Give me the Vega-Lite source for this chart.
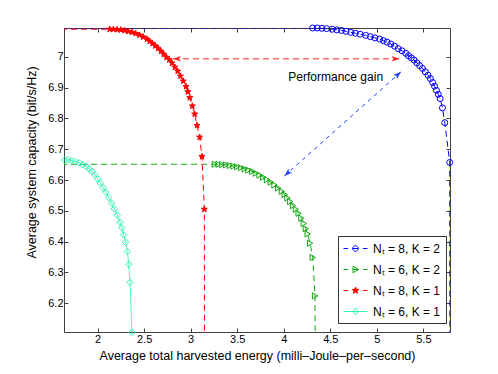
{
  "$schema": "https://vega.github.io/schema/vega-lite/v6.json",
  "width": 386,
  "height": 304,
  "autosize": {"type": "none"},
  "padding": {"left": 64, "top": 28, "right": 48, "bottom": 42},
  "background": "white",
  "config": {
    "view": {"stroke": null},
    "font": "Liberation Sans",
    "axis": {
      "domainColor": "#404040", "domainWidth": 1, "tickColor": "#404040", "tickSize": -4, "tickWidth": 1,
      "labelFont": "Liberation Sans", "labelFontSize": 11, "labelColor": "#000000", "labelPadding": 5,
      "titleFont": "Liberation Sans", "titleFontSize": 12.5, "titleFontWeight": "normal", "titleColor": "#000000",
      "grid": false
    }
  },
  "datasets": {
    "curves": [
      {"s": "N\u209c = 8, K = 2", "kind": "e", "x": 1.5, "y": 7.093},
      {"s": "N\u209c = 8, K = 2", "kind": "m", "x": 4.31, "y": 7.093},
      {"s": "N\u209c = 8, K = 2", "kind": "m", "x": 4.36, "y": 7.093},
      {"s": "N\u209c = 8, K = 2", "kind": "m", "x": 4.41, "y": 7.092},
      {"s": "N\u209c = 8, K = 2", "kind": "m", "x": 4.46, "y": 7.091},
      {"s": "N\u209c = 8, K = 2", "kind": "m", "x": 4.52, "y": 7.089},
      {"s": "N\u209c = 8, K = 2", "kind": "m", "x": 4.57, "y": 7.087},
      {"s": "N\u209c = 8, K = 2", "kind": "m", "x": 4.62, "y": 7.085},
      {"s": "N\u209c = 8, K = 2", "kind": "m", "x": 4.67, "y": 7.082},
      {"s": "N\u209c = 8, K = 2", "kind": "m", "x": 4.72, "y": 7.079},
      {"s": "N\u209c = 8, K = 2", "kind": "m", "x": 4.77, "y": 7.076},
      {"s": "N\u209c = 8, K = 2", "kind": "m", "x": 4.82, "y": 7.073},
      {"s": "N\u209c = 8, K = 2", "kind": "m", "x": 4.88, "y": 7.069},
      {"s": "N\u209c = 8, K = 2", "kind": "m", "x": 4.93, "y": 7.065},
      {"s": "N\u209c = 8, K = 2", "kind": "m", "x": 4.98, "y": 7.061},
      {"s": "N\u209c = 8, K = 2", "kind": "m", "x": 5.03, "y": 7.057},
      {"s": "N\u209c = 8, K = 2", "kind": "m", "x": 5.07, "y": 7.052},
      {"s": "N\u209c = 8, K = 2", "kind": "m", "x": 5.11, "y": 7.047},
      {"s": "N\u209c = 8, K = 2", "kind": "m", "x": 5.15, "y": 7.041},
      {"s": "N\u209c = 8, K = 2", "kind": "m", "x": 5.19, "y": 7.034},
      {"s": "N\u209c = 8, K = 2", "kind": "m", "x": 5.23, "y": 7.026},
      {"s": "N\u209c = 8, K = 2", "kind": "m", "x": 5.27, "y": 7.019},
      {"s": "N\u209c = 8, K = 2", "kind": "m", "x": 5.31, "y": 7.011},
      {"s": "N\u209c = 8, K = 2", "kind": "m", "x": 5.34, "y": 7.003},
      {"s": "N\u209c = 8, K = 2", "kind": "m", "x": 5.37, "y": 6.996},
      {"s": "N\u209c = 8, K = 2", "kind": "m", "x": 5.40, "y": 6.989},
      {"s": "N\u209c = 8, K = 2", "kind": "m", "x": 5.43, "y": 6.980},
      {"s": "N\u209c = 8, K = 2", "kind": "m", "x": 5.46, "y": 6.971},
      {"s": "N\u209c = 8, K = 2", "kind": "m", "x": 5.49, "y": 6.962},
      {"s": "N\u209c = 8, K = 2", "kind": "m", "x": 5.52, "y": 6.951},
      {"s": "N\u209c = 8, K = 2", "kind": "m", "x": 5.55, "y": 6.940},
      {"s": "N\u209c = 8, K = 2", "kind": "m", "x": 5.575, "y": 6.929},
      {"s": "N\u209c = 8, K = 2", "kind": "m", "x": 5.60, "y": 6.916},
      {"s": "N\u209c = 8, K = 2", "kind": "m", "x": 5.62, "y": 6.904},
      {"s": "N\u209c = 8, K = 2", "kind": "m", "x": 5.64, "y": 6.891},
      {"s": "N\u209c = 8, K = 2", "kind": "m", "x": 5.66, "y": 6.878},
      {"s": "N\u209c = 8, K = 2", "kind": "m", "x": 5.68, "y": 6.864},
      {"s": "N\u209c = 8, K = 2", "kind": "m", "x": 5.705, "y": 6.834},
      {"s": "N\u209c = 8, K = 2", "kind": "m", "x": 5.73, "y": 6.786},
      {"s": "N\u209c = 8, K = 2", "kind": "m", "x": 5.783, "y": 6.657},
      {"s": "N\u209c = 8, K = 2", "kind": "e", "x": 5.785, "y": 6.0},

      {"s": "N\u209c = 6, K = 2", "kind": "e", "x": 1.5, "y": 6.651},
      {"s": "N\u209c = 6, K = 2", "kind": "m", "x": 3.26, "y": 6.651},
      {"s": "N\u209c = 6, K = 2", "kind": "m", "x": 3.30, "y": 6.651},
      {"s": "N\u209c = 6, K = 2", "kind": "m", "x": 3.34, "y": 6.650},
      {"s": "N\u209c = 6, K = 2", "kind": "m", "x": 3.38, "y": 6.649},
      {"s": "N\u209c = 6, K = 2", "kind": "m", "x": 3.42, "y": 6.647},
      {"s": "N\u209c = 6, K = 2", "kind": "m", "x": 3.46, "y": 6.645},
      {"s": "N\u209c = 6, K = 2", "kind": "m", "x": 3.50, "y": 6.643},
      {"s": "N\u209c = 6, K = 2", "kind": "m", "x": 3.54, "y": 6.640},
      {"s": "N\u209c = 6, K = 2", "kind": "m", "x": 3.58, "y": 6.636},
      {"s": "N\u209c = 6, K = 2", "kind": "m", "x": 3.62, "y": 6.632},
      {"s": "N\u209c = 6, K = 2", "kind": "m", "x": 3.66, "y": 6.628},
      {"s": "N\u209c = 6, K = 2", "kind": "m", "x": 3.70, "y": 6.622},
      {"s": "N\u209c = 6, K = 2", "kind": "m", "x": 3.74, "y": 6.616},
      {"s": "N\u209c = 6, K = 2", "kind": "m", "x": 3.78, "y": 6.609},
      {"s": "N\u209c = 6, K = 2", "kind": "m", "x": 3.82, "y": 6.601},
      {"s": "N\u209c = 6, K = 2", "kind": "m", "x": 3.86, "y": 6.593},
      {"s": "N\u209c = 6, K = 2", "kind": "m", "x": 3.90, "y": 6.584},
      {"s": "N\u209c = 6, K = 2", "kind": "m", "x": 3.94, "y": 6.574},
      {"s": "N\u209c = 6, K = 2", "kind": "m", "x": 3.98, "y": 6.563},
      {"s": "N\u209c = 6, K = 2", "kind": "m", "x": 4.01, "y": 6.553},
      {"s": "N\u209c = 6, K = 2", "kind": "m", "x": 4.04, "y": 6.542},
      {"s": "N\u209c = 6, K = 2", "kind": "m", "x": 4.07, "y": 6.530},
      {"s": "N\u209c = 6, K = 2", "kind": "m", "x": 4.10, "y": 6.517},
      {"s": "N\u209c = 6, K = 2", "kind": "m", "x": 4.13, "y": 6.505},
      {"s": "N\u209c = 6, K = 2", "kind": "m", "x": 4.16, "y": 6.492},
      {"s": "N\u209c = 6, K = 2", "kind": "m", "x": 4.19, "y": 6.476},
      {"s": "N\u209c = 6, K = 2", "kind": "m", "x": 4.215, "y": 6.459},
      {"s": "N\u209c = 6, K = 2", "kind": "m", "x": 4.237, "y": 6.442},
      {"s": "N\u209c = 6, K = 2", "kind": "m", "x": 4.257, "y": 6.425},
      {"s": "N\u209c = 6, K = 2", "kind": "m", "x": 4.283, "y": 6.395},
      {"s": "N\u209c = 6, K = 2", "kind": "m", "x": 4.311, "y": 6.349},
      {"s": "N\u209c = 6, K = 2", "kind": "m", "x": 4.336, "y": 6.224},
      {"s": "N\u209c = 6, K = 2", "kind": "e", "x": 4.338, "y": 6.0},

      {"s": "N\u209c = 8, K = 1", "kind": "e", "x": 1.5, "y": 7.089},
      {"s": "N\u209c = 8, K = 1", "kind": "m", "x": 2.13, "y": 7.089},
      {"s": "N\u209c = 8, K = 1", "kind": "m", "x": 2.17, "y": 7.089},
      {"s": "N\u209c = 8, K = 1", "kind": "m", "x": 2.21, "y": 7.088},
      {"s": "N\u209c = 8, K = 1", "kind": "m", "x": 2.25, "y": 7.087},
      {"s": "N\u209c = 8, K = 1", "kind": "m", "x": 2.29, "y": 7.085},
      {"s": "N\u209c = 8, K = 1", "kind": "m", "x": 2.33, "y": 7.082},
      {"s": "N\u209c = 8, K = 1", "kind": "m", "x": 2.37, "y": 7.079},
      {"s": "N\u209c = 8, K = 1", "kind": "m", "x": 2.41, "y": 7.075},
      {"s": "N\u209c = 8, K = 1", "kind": "m", "x": 2.45, "y": 7.070},
      {"s": "N\u209c = 8, K = 1", "kind": "m", "x": 2.49, "y": 7.064},
      {"s": "N\u209c = 8, K = 1", "kind": "m", "x": 2.53, "y": 7.057},
      {"s": "N\u209c = 8, K = 1", "kind": "m", "x": 2.56, "y": 7.050},
      {"s": "N\u209c = 8, K = 1", "kind": "m", "x": 2.59, "y": 7.043},
      {"s": "N\u209c = 8, K = 1", "kind": "m", "x": 2.62, "y": 7.035},
      {"s": "N\u209c = 8, K = 1", "kind": "m", "x": 2.65, "y": 7.027},
      {"s": "N\u209c = 8, K = 1", "kind": "m", "x": 2.68, "y": 7.018},
      {"s": "N\u209c = 8, K = 1", "kind": "m", "x": 2.71, "y": 7.008},
      {"s": "N\u209c = 8, K = 1", "kind": "m", "x": 2.74, "y": 6.998},
      {"s": "N\u209c = 8, K = 1", "kind": "m", "x": 2.77, "y": 6.990},
      {"s": "N\u209c = 8, K = 1", "kind": "m", "x": 2.80, "y": 6.979},
      {"s": "N\u209c = 8, K = 1", "kind": "m", "x": 2.83, "y": 6.966},
      {"s": "N\u209c = 8, K = 1", "kind": "m", "x": 2.86, "y": 6.953},
      {"s": "N\u209c = 8, K = 1", "kind": "m", "x": 2.89, "y": 6.937},
      {"s": "N\u209c = 8, K = 1", "kind": "m", "x": 2.92, "y": 6.921},
      {"s": "N\u209c = 8, K = 1", "kind": "m", "x": 2.95, "y": 6.903},
      {"s": "N\u209c = 8, K = 1", "kind": "m", "x": 2.97, "y": 6.886},
      {"s": "N\u209c = 8, K = 1", "kind": "m", "x": 2.99, "y": 6.867},
      {"s": "N\u209c = 8, K = 1", "kind": "m", "x": 3.018, "y": 6.840},
      {"s": "N\u209c = 8, K = 1", "kind": "m", "x": 3.043, "y": 6.814},
      {"s": "N\u209c = 8, K = 1", "kind": "m", "x": 3.068, "y": 6.777},
      {"s": "N\u209c = 8, K = 1", "kind": "m", "x": 3.096, "y": 6.739},
      {"s": "N\u209c = 8, K = 1", "kind": "m", "x": 3.121, "y": 6.676},
      {"s": "N\u209c = 8, K = 1", "kind": "m", "x": 3.147, "y": 6.505},
      {"s": "N\u209c = 8, K = 1", "kind": "e", "x": 3.149, "y": 6.0},

      {"s": "N\u209c = 6, K = 1", "kind": "m", "x": 1.645, "y": 6.665},
      {"s": "N\u209c = 6, K = 1", "kind": "m", "x": 1.68, "y": 6.665},
      {"s": "N\u209c = 6, K = 1", "kind": "m", "x": 1.72, "y": 6.663},
      {"s": "N\u209c = 6, K = 1", "kind": "m", "x": 1.76, "y": 6.660},
      {"s": "N\u209c = 6, K = 1", "kind": "m", "x": 1.80, "y": 6.656},
      {"s": "N\u209c = 6, K = 1", "kind": "m", "x": 1.84, "y": 6.650},
      {"s": "N\u209c = 6, K = 1", "kind": "m", "x": 1.88, "y": 6.643},
      {"s": "N\u209c = 6, K = 1", "kind": "m", "x": 1.91, "y": 6.636},
      {"s": "N\u209c = 6, K = 1", "kind": "m", "x": 1.94, "y": 6.628},
      {"s": "N\u209c = 6, K = 1", "kind": "m", "x": 1.97, "y": 6.617},
      {"s": "N\u209c = 6, K = 1", "kind": "m", "x": 2.00, "y": 6.604},
      {"s": "N\u209c = 6, K = 1", "kind": "m", "x": 2.03, "y": 6.590},
      {"s": "N\u209c = 6, K = 1", "kind": "m", "x": 2.06, "y": 6.575},
      {"s": "N\u209c = 6, K = 1", "kind": "m", "x": 2.09, "y": 6.560},
      {"s": "N\u209c = 6, K = 1", "kind": "m", "x": 2.12, "y": 6.543},
      {"s": "N\u209c = 6, K = 1", "kind": "m", "x": 2.15, "y": 6.525},
      {"s": "N\u209c = 6, K = 1", "kind": "m", "x": 2.18, "y": 6.506},
      {"s": "N\u209c = 6, K = 1", "kind": "m", "x": 2.21, "y": 6.486},
      {"s": "N\u209c = 6, K = 1", "kind": "m", "x": 2.24, "y": 6.463},
      {"s": "N\u209c = 6, K = 1", "kind": "m", "x": 2.26, "y": 6.445},
      {"s": "N\u209c = 6, K = 1", "kind": "m", "x": 2.28, "y": 6.422},
      {"s": "N\u209c = 6, K = 1", "kind": "m", "x": 2.30, "y": 6.398},
      {"s": "N\u209c = 6, K = 1", "kind": "m", "x": 2.32, "y": 6.368},
      {"s": "N\u209c = 6, K = 1", "kind": "m", "x": 2.335, "y": 6.327},
      {"s": "N\u209c = 6, K = 1", "kind": "m", "x": 2.349, "y": 6.268},
      {"s": "N\u209c = 6, K = 1", "kind": "m", "x": 2.368, "y": 6.106}
    ],
    "arrows": [
      {"id": "red", "x": 2.81, "y": 6.993, "x2": 5.244, "y2": 6.993},
      {"id": "blue", "x": 4.007, "y": 6.613, "x2": 5.26, "y2": 6.951}
    ],
    "notes": [
      {"text": "Performance gain", "x": 4.558, "y": 6.933}
    ]
  },
  "resolve": {
    "scale": {"shape": "independent", "fill": "independent", "stroke": "independent", "color": "independent", "size": "independent", "strokeDash": "independent"},
    "axis": {"x": "independent", "y": "independent"}
  },
  "layer": [
    {
      "data": {"name": "curves"},
      "mark": {"type": "line", "strokeWidth": 1, "clip": true},
      "encoding": {
        "x": {"field": "x", "type": "quantitative", "scale": {"domain": [1.639, 5.786], "nice": false, "zero": false},
              "axis": {"orient": "bottom", "values": [2, 2.5, 3, 3.5, 4, 4.5, 5, 5.5], "format": "~g",
                       "title": "Average total harvested energy (milli\u2013Joule\u2013per\u2013second)", "titleY": 23, "titleBaseline": "middle"}},
        "y": {"field": "y", "type": "quantitative", "scale": {"domain": [6.107, 7.093], "nice": false, "zero": false},
              "axis": {"orient": "left", "values": [6.2, 6.3, 6.4, 6.5, 6.6, 6.7, 6.8, 6.9, 7], "format": "~g",
                       "title": "Average system capacity (bit/s/Hz)", "titleX": -33, "titleY": 134, "titleBaseline": "middle", "titleAngle": 270, "titleAlign": "center"}},
        "color": {"field": "s", "type": "nominal", "legend": null,
                  "scale": {"domain": ["N\u209c = 8, K = 2", "N\u209c = 6, K = 2", "N\u209c = 8, K = 1", "N\u209c = 6, K = 1"], "range": ["#0000ff", "#11aa11", "#ff0000", "#33f5b0"]}},
        "strokeDash": {"field": "s", "type": "nominal", "legend": null,
                  "scale": {"domain": ["N\u209c = 8, K = 2", "N\u209c = 6, K = 2", "N\u209c = 8, K = 1", "N\u209c = 6, K = 1"], "range": [[6, 4], [6, 4], [6, 4], [1, 0]]}}
      }
    },
    {
      "data": {"name": "arrows"},
      "mark": {"type": "rule", "strokeWidth": 1, "clip": true},
      "encoding": {
        "x": {"field": "x", "type": "quantitative", "axis": null, "scale": {"domain": [1.639, 5.786], "nice": false, "zero": false}},
        "y": {"field": "y", "type": "quantitative", "axis": null, "scale": {"domain": [6.107, 7.093], "nice": false, "zero": false}},
        "x2": {"field": "x2"},
        "y2": {"field": "y2"},
        "color": {"field": "id", "type": "nominal", "legend": null, "scale": {"domain": ["red", "blue"], "range": ["#ff2020", "#2040ff"]}},
        "strokeDash": {"field": "id", "type": "nominal", "legend": null, "scale": {"domain": ["red", "blue"], "range": [[6, 4], [4, 4]]}}
      }
    },
    {
      "data": {"name": "arrows"},
      "transform": [{"filter": "datum.id == 'red'"}],
      "mark": {"type": "point", "shape": "M0,0L0.55,1.6L0,1.2L-0.55,1.6Z", "size": 100, "filled": true, "color": "#ff2020", "opacity": 1, "angle": 270},
      "encoding": {
        "x": {"field": "x", "type": "quantitative", "axis": null, "scale": {"domain": [1.639, 5.786], "nice": false, "zero": false}},
        "y": {"field": "y", "type": "quantitative", "axis": null, "scale": {"domain": [6.107, 7.093], "nice": false, "zero": false}}
      }
    },
    {
      "data": {"name": "arrows"},
      "transform": [{"filter": "datum.id == 'red'"}],
      "mark": {"type": "point", "shape": "M0,0L0.55,1.6L0,1.2L-0.55,1.6Z", "size": 100, "filled": true, "color": "#ff2020", "opacity": 1, "angle": 90},
      "encoding": {
        "x": {"field": "x2", "type": "quantitative", "axis": null, "scale": {"domain": [1.639, 5.786], "nice": false, "zero": false}},
        "y": {"field": "y2", "type": "quantitative", "axis": null, "scale": {"domain": [6.107, 7.093], "nice": false, "zero": false}}
      }
    },
    {
      "data": {"name": "arrows"},
      "transform": [{"filter": "datum.id == 'blue'"}],
      "mark": {"type": "point", "shape": "M0,0L0.55,1.6L0,1.2L-0.55,1.6Z", "size": 100, "filled": true, "color": "#2040ff", "opacity": 1, "angle": 228},
      "encoding": {
        "x": {"field": "x", "type": "quantitative", "axis": null, "scale": {"domain": [1.639, 5.786], "nice": false, "zero": false}},
        "y": {"field": "y", "type": "quantitative", "axis": null, "scale": {"domain": [6.107, 7.093], "nice": false, "zero": false}}
      }
    },
    {
      "data": {"name": "arrows"},
      "transform": [{"filter": "datum.id == 'blue'"}],
      "mark": {"type": "point", "shape": "M0,0L0.55,1.6L0,1.2L-0.55,1.6Z", "size": 100, "filled": true, "color": "#2040ff", "opacity": 1, "angle": 48},
      "encoding": {
        "x": {"field": "x2", "type": "quantitative", "axis": null, "scale": {"domain": [1.639, 5.786], "nice": false, "zero": false}},
        "y": {"field": "y2", "type": "quantitative", "axis": null, "scale": {"domain": [6.107, 7.093], "nice": false, "zero": false}}
      }
    },
    {
      "data": {"name": "notes"},
      "mark": {"type": "text", "font": "Liberation Sans", "fontSize": 12, "color": "#000000", "align": "center", "baseline": "middle"},
      "encoding": {
        "x": {"field": "x", "type": "quantitative", "axis": null, "scale": {"domain": [1.639, 5.786], "nice": false, "zero": false}},
        "y": {"field": "y", "type": "quantitative", "axis": null, "scale": {"domain": [6.107, 7.093], "nice": false, "zero": false}},
        "text": {"field": "text"}
      }
    },
    {
      "data": {"name": "curves"},
      "transform": [{"filter": "datum.kind == 'm'"}],
      "mark": {"type": "point", "strokeWidth": 1, "opacity": 1, "clip": false},
      "encoding": {
        "x": {"field": "x", "type": "quantitative", "scale": {"domain": [1.639, 5.786], "nice": false, "zero": false},
              "axis": {"orient": "top", "values": [2, 2.5, 3, 3.5, 4, 4.5, 5, 5.5], "labels": false, "title": null}},
        "y": {"field": "y", "type": "quantitative", "scale": {"domain": [6.107, 7.093], "nice": false, "zero": false},
              "axis": {"orient": "right", "values": [6.2, 6.3, 6.4, 6.5, 6.6, 6.7, 6.8, 6.9, 7], "labels": false, "title": null}},
        "stroke": {"field": "s", "type": "nominal", "legend": null,
                  "scale": {"domain": ["N\u209c = 8, K = 2", "N\u209c = 6, K = 2", "N\u209c = 8, K = 1", "N\u209c = 6, K = 1"], "range": ["#0000ff", "#11aa11", "#ff0000", "#33f5b0"]}},
        "fill": {"field": "s", "type": "nominal", "legend": null,
                  "scale": {"domain": ["N\u209c = 8, K = 2", "N\u209c = 6, K = 2", "N\u209c = 8, K = 1", "N\u209c = 6, K = 1"], "range": ["transparent", "transparent", "#ff0000", "transparent"]}},
        "shape": {"field": "s", "type": "nominal", "legend": null,
                  "scale": {"domain": ["N\u209c = 8, K = 2", "N\u209c = 6, K = 2", "N\u209c = 8, K = 1", "N\u209c = 6, K = 1"],
                            "range": ["circle", "triangle-right", "M0,-1L0.235,-0.324L0.951,-0.309L0.38,0.124L0.588,0.809L0,0.4L-0.588,0.809L-0.38,0.124L-0.951,-0.309L-0.235,-0.324Z", "diamond"]}},
        "size": {"field": "s", "type": "nominal", "legend": null,
                  "scale": {"domain": ["N\u209c = 8, K = 2", "N\u209c = 6, K = 2", "N\u209c = 8, K = 1", "N\u209c = 6, K = 1"], "range": [36, 42, 72, 44]}}
      }
    },
    {
      "data": {"name": "curves"},
      "transform": [{"filter": "datum.x > 100"}],
      "mark": {"type": "point", "strokeWidth": 1, "opacity": 1, "size": 196},
      "encoding": {
        "x": {"field": "x", "type": "quantitative", "axis": null, "scale": {"domain": [1.639, 5.786], "nice": false, "zero": false}},
        "y": {"field": "y", "type": "quantitative", "axis": null, "scale": {"domain": [6.107, 7.093], "nice": false, "zero": false}},
        "stroke": {"field": "s", "type": "nominal",
                  "scale": {"domain": ["N\u209c = 8, K = 2", "N\u209c = 6, K = 2", "N\u209c = 8, K = 1", "N\u209c = 6, K = 1"], "range": ["#0000ff", "#11aa11", "#ff0000", "#33f5b0"]},
                  "legend": {"title": null, "orient": "none", "legendX": 274, "legendY": 208, "padding": 5, "strokeColor": "#333333", "fillColor": "#ffffff",
                             "labelFont": "Liberation Sans", "labelFontSize": 12, "labelColor": "#000000", "symbolSize": 196, "symbolStrokeWidth": 1,
                             "symbolOffset": 5, "labelOffset": 10, "rowPadding": 7}},
        "fill": {"field": "s", "type": "nominal",
                  "scale": {"domain": ["N\u209c = 8, K = 2", "N\u209c = 6, K = 2", "N\u209c = 8, K = 1", "N\u209c = 6, K = 1"], "range": ["transparent", "transparent", "#ff0000", "transparent"]},
                  "legend": {"title": null, "orient": "none", "legendX": 274, "legendY": 208, "padding": 5, "strokeColor": "#333333", "fillColor": "#ffffff",
                             "labelFont": "Liberation Sans", "labelFontSize": 12, "labelColor": "#000000", "symbolSize": 196, "symbolStrokeWidth": 1,
                             "symbolOffset": 5, "labelOffset": 10, "rowPadding": 7}},
        "shape": {"field": "s", "type": "nominal",
                  "scale": {"domain": ["N\u209c = 8, K = 2", "N\u209c = 6, K = 2", "N\u209c = 8, K = 1", "N\u209c = 6, K = 1"],
                            "range": ["M-1.71,0L-1.07,0M-0.4,0L0.4,0M1.07,0L1.71,0M0.4,0A0.4,0.4,0,1,1,-0.4,0A0.4,0.4,0,1,1,0.4,0",
                                      "M-1.71,0L-1.07,0M-0.4,0L0.4,0M1.07,0L1.71,0M-0.36,-0.46L0.46,0L-0.36,0.46Z",
                                      "M-1.71,0L-1.07,0M1.07,0L1.71,0M0,-0.5L0.118,-0.162L0.476,-0.155L0.19,0.062L0.294,0.405L0,0.2L-0.294,0.405L-0.19,0.062L-0.476,-0.155L-0.118,-0.162Z",
                                      "M-1.71,0L1.71,0M0,-0.5L0.36,0L0,0.5L-0.36,0Z"]},
                  "legend": {"title": null, "orient": "none", "legendX": 274, "legendY": 208, "padding": 5, "strokeColor": "#333333", "fillColor": "#ffffff",
                             "labelFont": "Liberation Sans", "labelFontSize": 12, "labelColor": "#000000", "symbolSize": 196, "symbolStrokeWidth": 1,
                             "symbolOffset": 5, "labelOffset": 10, "rowPadding": 7}}
      }
    }
  ]
}
